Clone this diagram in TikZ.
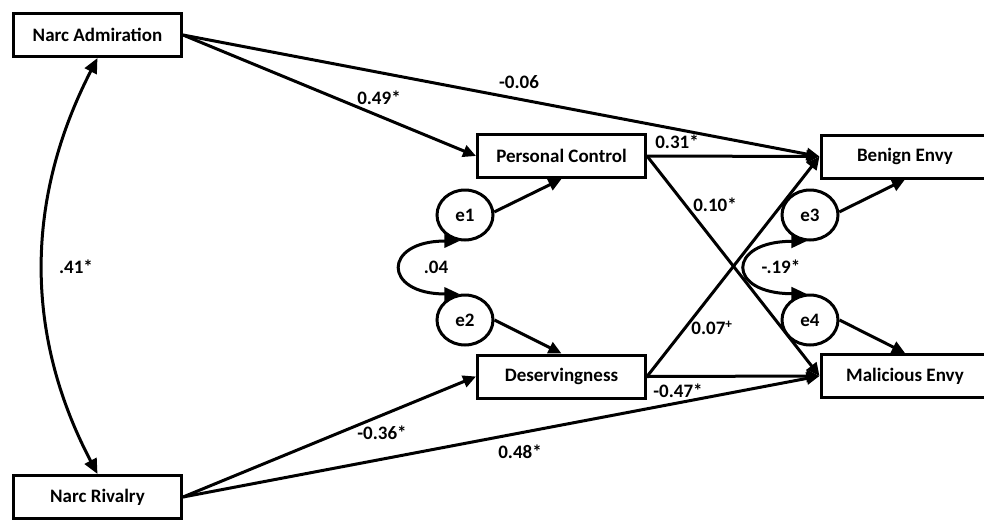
\documentclass[tikz,border=0pt]{standalone}
\usepackage{fontspec}
\setmainfont{Carlito}
\usetikzlibrary{arrows.meta,shapes.geometric}
\begin{document}
\begin{tikzpicture}[x=1pt,y=-1pt,
  every node/.style={font=\fontsize{19}{22}\selectfont\bfseries},
  var/.style={draw, line width=3pt, minimum width=168pt, minimum height=43pt, inner sep=0pt},
  err/.style={draw, ellipse, line width=3pt, minimum width=56pt, minimum height=50pt, inner sep=0pt},
  reg/.style={line width=3pt, -{Triangle[length=13pt,width=12pt]}},
  cov/.style={line width=3pt, {Triangle[length=15pt,width=13pt]}-{Triangle[length=15pt,width=13pt]}},
  coef/.style={inner sep=0pt}]
\useasboundingbox (0,0) rectangle (984,522);

% observed variables
\node[var] (na) at (97.5,35)   {Narc Admiration};
\node[var] (nr) at (97.5,497)  {Narc Rivalry};
\node[var] (pc) at (561.5,156) {Personal Control};
\node[var] (ds) at (561.5,376.5) {Deservingness};
\node[var] (be) at (905,156.5) {Benign Envy};
\node[var] (me) at (905,376)   {Malicious Envy};

% residuals
\node[err] (e1) at (465,215) {e1};
\node[err] (e2) at (465,320) {e2};
\node[err] (e3) at (810,215) {e3};
\node[err] (e4) at (810,320) {e4};

% regression paths
\draw[reg] (na.east) -- (pc.west);
\draw[reg] (na.east) -- (be.west);
\draw[reg] (pc.east) -- (be.west);
\draw[reg] (pc.east) -- (me.west);
\draw[reg] (ds.east) -- (be.west);
\draw[reg] (ds.east) -- (me.west);
\draw[reg] (nr.east) -- (ds.west);
\draw[reg] (nr.east) -- (me.west);
\draw[reg] (e1.6) -- (pc.south);
\draw[reg] (e2.east) -- (ds.north);
\draw[reg] (e3.6) -- (be.south);
\draw[reg] (e4.east) -- (me.north);

% covariances
\draw[cov] (na.south) .. controls +(-73,142) and +(-73,-139) .. (nr.north);
\draw[cov] (e1.258) .. controls +(-77,0) and +(-77,0) .. (e2.102);
\draw[cov] (e3.262) .. controls +(-80,0) and +(-80,0) .. (e4.98);

% coefficients
\node[coef] (c1)  at (519,82)  {-0.06};
\node[coef] (c2)  at (379,98)  {0.49*};
\node[coef] (c3)  at (677,142) {0.31*};
\node[coef] (c4)  at (715,205) {0.10*};
\node[coef] (c5)  at (712,328) {0.07\textsuperscript{+}};
\node[coef] (c6)  at (678,391) {-0.47*};
\node[coef] (c7)  at (382,433) {-0.36*};
\node[coef] (c8)  at (520,452) {0.48*};
\node[coef] (c9)  at (76,267)  {.41*};
\node[coef] (c10) at (436,267) {.04};
\node[coef] (c11) at (781,267) {-.19*};
\end{tikzpicture}
\end{document}
